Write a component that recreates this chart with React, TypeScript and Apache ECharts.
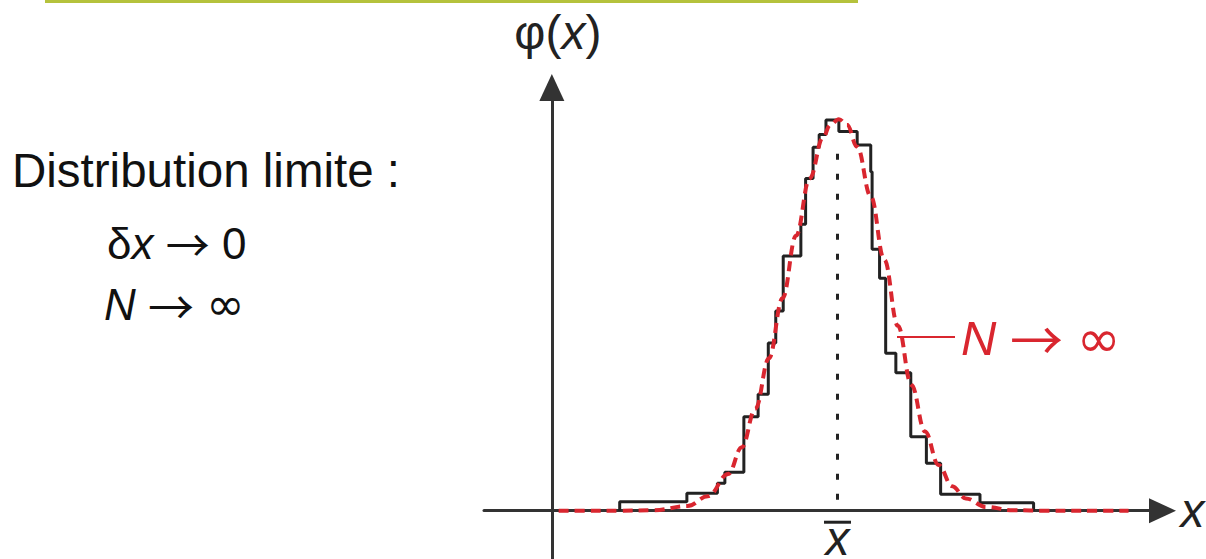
import React, { useEffect, useRef } from 'react';
import * as echarts from 'echarts';

// Histogram bin edges (x units) and bar heights (phi units)
const binEdges = [1.0, 1.99, 2.44, 2.55, 2.83, 3.04, 3.19, 3.3, 3.41, 3.67, 3.74, 3.85, 3.94, 4.04, 4.23, 4.5, 4.7, 4.72, 4.83, 4.92, 5.07, 5.29, 5.52, 5.73, 6.31, 7.1];
const binHeights = [0.021, 0.041, 0.065, 0.091, 0.222, 0.275, 0.396, 0.472, 0.602, 0.677, 0.785, 0.859, 0.889, 0.923, 0.896, 0.864, 0.801, 0.618, 0.549, 0.372, 0.326, 0.175, 0.112, 0.039, 0.019];

// Limit distribution (N -> infinity), sampled points
const curveX = [0.1, 0.5, 1.0, 1.5, 2.0, 2.3, 2.6, 2.8, 3.0, 3.2, 3.4, 3.6, 3.8, 4.0, 4.1, 4.23, 4.35, 4.5, 4.7, 4.9, 5.1, 5.3, 5.5, 5.7, 5.9, 6.1, 6.4, 6.8, 7.3, 8.0, 8.5];
const curveY = [0, 0, 0, 0.001, 0.011, 0.034, 0.087, 0.15, 0.241, 0.36, 0.502, 0.65, 0.785, 0.883, 0.911, 0.925, 0.912, 0.86, 0.743, 0.593, 0.437, 0.297, 0.187, 0.108, 0.058, 0.029, 0.009, 0.001, 0, 0, 0];

// Mean value and extent of the dotted mean marker
const meanX = 4.21;
const meanLineY = [0.026, 0.873];

const FONT = '"Liberation Sans", Arial, sans-serif';
const ARROW_FONT = '"Noto Sans CJK SC", "DejaVu Sans", sans-serif';
const INF_FONT = '"DejaVu Sans", sans-serif';
const INK = '#222';
const RED = '#d9262f';

// grid geometry: axis range below zero lets both axis lines cross past the origin
const Y_MIN = -0.12;
const Y_MAX = 1.0;
const GRID_TOP = 87.5;
const GRID_BOTTOM = -2.5;
const CHART_H = 559;

function mathRich(size: number, fill: string, symbolSize = size) {
  return {
    n: { fontSize: size, fontFamily: FONT, fill, color: fill },
    i: { fontSize: size, fontFamily: FONT, fontStyle: 'italic', fill, color: fill },
    a: { fontSize: symbolSize, fontFamily: ARROW_FONT, fill, color: fill },
    f: { fontSize: symbolSize, fontFamily: INF_FONT, fill, color: fill },
  };
}

export default function App() {
  const ref = useRef<HTMLDivElement>(null);

  useEffect(() => {
    document.body.style.margin = '0';
    const chart = echarts.init(ref.current!, undefined, { renderer: 'svg' });

    const histData: number[][] = [[binEdges[0], 0]];
    binHeights.forEach((h, i) => histData.push([binEdges[i], h]));
    histData.push([binEdges[binEdges.length - 1], 0]);

    const curveData = curveX.map((x, i) => [x, curveY[i]]);

    // axis labels sit at the grid's lower edge; pull the mean label up to the zero line
    const plotH = CHART_H - GRID_BOTTOM - GRID_TOP;
    const zeroBelowEdge = (plotH * (0 - Y_MIN)) / (Y_MAX - Y_MIN);
    const labelMargin = 10 - zeroBelowEdge;

    chart.setOption({
      animation: false,
      backgroundColor: '#fff',
      grid: { left: 484, right: 43.5, top: GRID_TOP, bottom: GRID_BOTTOM, outerBoundsMode: 'none', containLabel: false },
      xAxis: {
        type: 'value',
        min: -1,
        max: 9,
        axisLine: {
          onZero: true,
          symbol: ['none', 'triangle'],
          symbolSize: [25, 27],
          lineStyle: { color: '#333', width: 3 },
        },
        axisTick: { show: false },
        splitLine: { show: false },
        axisLabel: {
          show: true,
          customValues: [meanX],
          margin: labelMargin,
          formatter: () => '{bar|}\n{v|x}',
          rich: {
            bar: { width: 27, height: 3, lineHeight: 3, backgroundColor: INK },
            v: { fontSize: 48, fontStyle: 'italic', fontFamily: FONT, color: INK, lineHeight: 30 },
          },
        },
        name: 'x',
        nameLocation: 'end',
        nameGap: 18,
        nameTextStyle: {
          fontSize: 48,
          fontStyle: 'italic',
          fontFamily: FONT,
          color: INK,
          padding: [0, 0, 14, 0],
        },
      },
      yAxis: {
        type: 'value',
        min: Y_MIN,
        max: Y_MAX,
        axisLine: {
          onZero: true,
          symbol: ['none', 'triangle'],
          symbolSize: [25, 27],
          lineStyle: { color: '#333', width: 3 },
        },
        axisTick: { show: false },
        splitLine: { show: false },
        axisLabel: { show: false },
        name: '{n|φ(}{i|x}{n|)}',
        nameLocation: 'end',
        nameGap: 31,
        nameTextStyle: {
          padding: [0, 0, 0, 12],
          rich: {
            n: { fontSize: 48, fontFamily: FONT, color: INK },
            i: { fontSize: 48, fontFamily: FONT, fontStyle: 'italic', color: INK },
          },
        },
      },
      series: [
        {
          name: 'histogram',
          type: 'line',
          step: 'end',
          data: histData,
          symbol: 'none',
          silent: true,
          lineStyle: { color: INK, width: 3 },
          z: 3,
        },
        {
          name: 'mean',
          type: 'line',
          data: [
            [meanX, meanLineY[0]],
            [meanX, meanLineY[1]],
          ],
          symbol: 'none',
          silent: true,
          lineStyle: { color: INK, width: 3, type: [6, 14] },
          z: 2,
        },
        {
          name: 'limit',
          type: 'line',
          data: curveData,
          smooth: 0.4,
          smoothMonotone: 'x',
          symbol: 'none',
          silent: true,
          lineStyle: { color: RED, width: 4, type: [10, 6] },
          z: 5,
        },
      ],
      graphic: [
        { type: 'rect', shape: { x: 45, y: 0, width: 813, height: 3 }, style: { fill: '#b5c23c' }, silent: true },
        {
          type: 'text',
          x: 12,
          y: 170,
          style: { text: 'Distribution limite :', font: `47.5px ${FONT}`, fill: '#111', verticalAlign: 'middle' },
        },
        {
          type: 'text',
          x: 107,
          y: 243,
          style: {
            text: '{n|δ}{i|x}{n| }{a|→}{n| 0}',
            verticalAlign: 'middle',
            rich: mathRich(44, '#111'),
          },
        },
        {
          type: 'text',
          x: 104,
          y: 304,
          style: {
            text: '{i|N}{n| }{a|→}{n| }{f|∞}',
            verticalAlign: 'middle',
            rich: mathRich(44, '#111', 46),
          },
        },
        {
          type: 'line',
          shape: { x1: 897, y1: 337, x2: 955, y2: 337 },
          style: { stroke: RED, lineWidth: 2 },
          z: 10,
        },
        {
          type: 'text',
          x: 961,
          y: 338,
          z: 10,
          style: {
            text: '{i|N}{n| }{a|→}{n| }{f|∞}',
            verticalAlign: 'middle',
            rich: mathRich(49, RED, 53),
          },
        },
      ],
    });

    return () => chart.dispose();
  }, []);

  return <div ref={ref} style={{ position: 'absolute', left: 0, top: 0, width: 1206, height: CHART_H }} />;
}
